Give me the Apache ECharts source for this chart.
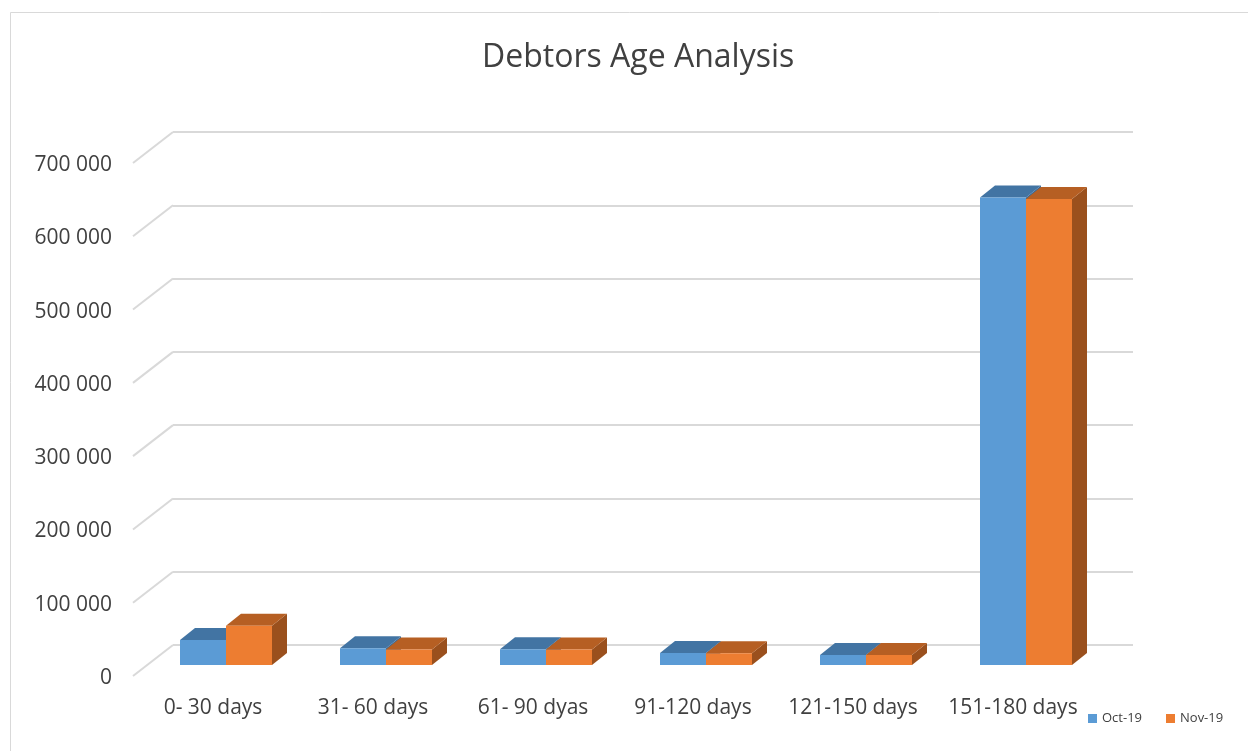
<!DOCTYPE html>
<html>
<head>
<meta charset="utf-8">
<title>Debtors Age Analysis</title>
<script src="https://cdn.jsdelivr.net/npm/echarts@6/dist/echarts.min.js"></script>
<style>
  html, body { margin: 0; padding: 0; background: #fff; }
  #chart { width: 1248px; height: 751px; }
</style>
</head>
<body>
<div id="chart"></div>
<script>
// data
const categories = ['0- 30 days', '31- 60 days', '61- 90 dyas', '91-120 days', '121-150 days', '151-180 days'];
const oct19 = [34000, 23000, 21500, 16500, 13600, 638000];
const nov19 = [53500, 21000, 21000, 16200, 13500, 636000];
const yTicks = [0, 100000, 200000, 300000, 400000, 500000, 600000, 700000];

// 3d look: shift from back wall to front plane, bar front and bar depth
const WALL_DX = 40, WALL_DY = 31;
const BAR_DX = 27, BAR_DY = 20;
const DEPTH_DX = 15, DEPTH_DY = 12;
const BAR_W = 46;

const fmt = (v) => String(v).replace(/\B(?=(\d{3})+(?!\d))/g, ' ');

function barRenderer(side, front, top, dark) {
  return function (params, api) {
    const idx = api.value(0);
    const val = api.value(1);
    const base = api.coord([idx, 0]);
    const peak = api.coord([idx, val]);
    const x0 = base[0] + (side < 0 ? -BAR_W : 0) - BAR_DX;
    const yb = base[1] + BAR_DY;
    const yt = peak[1] + BAR_DY;
    const x1 = x0 + BAR_W;
    return {
      type: 'group',
      children: [
        {
          type: 'polygon',
          shape: {points: [[x1, yt], [x1 + DEPTH_DX, yt - DEPTH_DY], [x1 + DEPTH_DX, yb - DEPTH_DY], [x1, yb]]},
          style: {fill: dark}
        },
        {
          type: 'polygon',
          shape: {points: [[x0, yt], [x1, yt], [x1 + DEPTH_DX, yt - DEPTH_DY], [x0 + DEPTH_DX, yt - DEPTH_DY]]},
          style: {fill: top}
        },
        {
          type: 'rect',
          shape: {x: x0, y: yt, width: BAR_W, height: yb - yt},
          style: {fill: front}
        }
      ]
    };
  };
}

const chart = echarts.init(document.getElementById('chart'));

const option = {
  animation: false,
  backgroundColor: '#ffffff',
  textStyle: {fontFamily: 'Open Sans', color: '#404040'},
  title: {
    text: 'Debtors Age Analysis',
    left: 477,
    top: 37,
    textStyle: {fontFamily: 'Open Sans', fontSize: 32, fontWeight: 'normal', color: '#404040'}
  },
  legend: {
    left: 1083,
    top: 707,
    itemWidth: 9,
    itemHeight: 9,
    itemGap: 24,
    icon: 'rect',
    textStyle: {fontSize: 13, color: '#404040', fontFamily: 'Open Sans'},
    data: ['Oct-19', 'Nov-19']
  },
  graphic: [{
    type: 'rect',
    shape: {x: 10.5, y: 12.5, width: 1260, height: 760},
    style: {fill: null, stroke: '#d9d9d9', lineWidth: 1},
    silent: true,
    z: -10
  }],
  grid: [
    // back wall
    {left: 173, top: 132, width: 960, height: 513},
    // front plane, carries the labels
    {left: 133, top: 165, width: 960, height: 513}
  ],
  xAxis: [
    {
      type: 'category', gridIndex: 0, data: categories,
      axisLine: {show: false}, axisTick: {show: false}, axisLabel: {show: false}
    },
    {
      type: 'category', gridIndex: 1, data: categories,
      axisLine: {show: false}, axisTick: {show: false},
      axisLabel: {interval: 0, fontSize: 21, color: '#404040', margin: 20, fontFamily: 'Open Sans'}
    }
  ],
  yAxis: [
    {
      type: 'value', gridIndex: 0, min: 0, max: 700000, interval: 100000,
      axisLine: {show: false}, axisTick: {show: false}, axisLabel: {show: false},
      splitLine: {lineStyle: {color: '#d9d9d9', width: 2}}
    },
    {
      type: 'value', gridIndex: 1, min: 0, max: 700000, interval: 100000,
      axisLine: {show: false}, axisTick: {show: false}, splitLine: {show: false},
      axisLabel: {fontSize: 21, color: '#404040', margin: 21, formatter: fmt, fontFamily: 'Open Sans'}
    }
  ],
  series: [
    {
      // wall-to-front diagonals for each gridline
      type: 'custom',
      name: 'grid',
      xAxisIndex: 0,
      yAxisIndex: 0,
      silent: true,
      data: yTicks.map((v) => [0, v]),
      renderItem: function (params, api) {
        const p = api.coord([0, api.value(1)]);
        const x = params.coordSys.x;
        return {
          type: 'line',
          shape: {x1: x - WALL_DX, y1: p[1] + WALL_DY, x2: x, y2: p[1]},
          style: {stroke: '#d9d9d9', lineWidth: 2}
        };
      },
      z: 1
    },
    {
      type: 'custom',
      name: 'Oct-19',
      xAxisIndex: 0,
      yAxisIndex: 0,
      itemStyle: {color: '#5b9bd5'},
      data: oct19.map((v, i) => [i, v]),
      renderItem: barRenderer(-1, '#5b9bd5', '#4274a3', '#3b6a96'),
      z: 2
    },
    {
      type: 'custom',
      name: 'Nov-19',
      xAxisIndex: 0,
      yAxisIndex: 0,
      itemStyle: {color: '#ed7d31'},
      data: nov19.map((v, i) => [i, v]),
      renderItem: barRenderer(1, '#ed7d31', '#b65f23', '#9a501d'),
      z: 3
    }
  ]
};

chart.setOption(option);
</script>
</body>
</html>
